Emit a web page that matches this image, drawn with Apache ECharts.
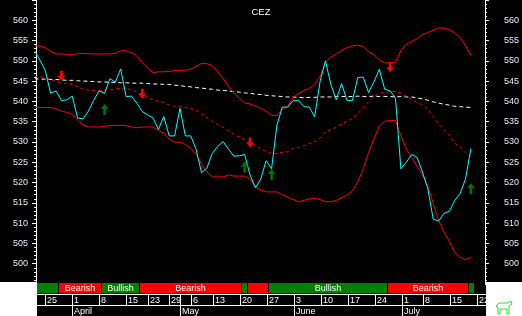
<!DOCTYPE html>
<html><head><meta charset="utf-8">
<script src="https://cdn.jsdelivr.net/npm/echarts@6/dist/echarts.min.js"></script>
<style>html,body{margin:0;padding:0;background:#000;overflow:hidden}#c{width:522px;height:316px}</style>
</head><body><div id="c"></div>
<script>
// ---- data ----
const days = [
 '2019-03-21','2019-03-22','2019-03-25','2019-03-26','2019-03-27','2019-03-28','2019-03-29',
 '2019-04-01','2019-04-02','2019-04-03','2019-04-04','2019-04-05','2019-04-08','2019-04-09','2019-04-10','2019-04-11','2019-04-12',
 '2019-04-15','2019-04-16','2019-04-17','2019-04-18','2019-04-23','2019-04-24','2019-04-25','2019-04-26','2019-04-29','2019-04-30',
 '2019-05-02','2019-05-03','2019-05-06','2019-05-07','2019-05-09','2019-05-10','2019-05-13','2019-05-14','2019-05-15','2019-05-16','2019-05-17',
 '2019-05-20','2019-05-21','2019-05-22','2019-05-23','2019-05-24','2019-05-27','2019-05-28','2019-05-29','2019-05-30','2019-05-31',
 '2019-06-03','2019-06-04','2019-06-05','2019-06-06','2019-06-07','2019-06-10','2019-06-11','2019-06-12','2019-06-13','2019-06-14',
 '2019-06-17','2019-06-18','2019-06-19','2019-06-20','2019-06-21','2019-06-24','2019-06-25','2019-06-26','2019-06-27','2019-06-28',
 '2019-07-01','2019-07-02','2019-07-03','2019-07-04','2019-07-08','2019-07-09','2019-07-10','2019-07-11','2019-07-12',
 '2019-07-15','2019-07-16','2019-07-17','2019-07-18','2019-07-19','2019-07-22','2019-07-23'
];
const closePrice = [
 552.5,550.2,547.6,542.0,542.6,540.2,540.4,541.3,535.9,535.7,
 537.6,540.3,542.6,542.0,545.6,544.8,548.0,541.2,541.3,539.6,
 537.5,536.7,535.9,533.1,536.3,531.5,531.5,538.3,531.5,531.5,
 528.2,522.4,523.6,527.2,528.9,530.1,528.2,526.5,526.6,526.9,
 521.9,518.7,520.9,525.4,523.4,534.2,538.6,538.6,540.2,540.2,
 538.7,538.6,536.2,544.9,550.0,544.2,540.4,544.4,540.2,540.2,
 545.9,546.0,542.2,544.8,547.9,543.0,542.6,540.8,523.4,525.0,
 526.9,526.2,522.6,518.5,511.0,510.5,512.4,512.9,515.6,517.3,
 520.9,528.4
];
const upperBand = [
 553.7,553.7,553.2,552.4,551.7,551.7,551.6,551.5,551.8,551.8,
 551.8,551.7,551.7,551.7,551.7,551.9,552.5,552.5,552.0,551.2,
 549.6,548.2,547.1,547.3,547.3,547.4,547.6,547.7,547.7,548.0,
 548.6,549.4,549.3,548.8,547.3,545.7,543.7,542.1,540.8,539.6,
 539.4,538.9,538.3,537.6,536.5,536.6,538.0,538.8,541.0,541.9,
 542.7,543.2,544.2,546.1,549.7,550.9,551.7,552.6,553.2,553.7,
 553.9,553.5,552.3,551.5,550.2,549.5,549.5,549.7,552.5,554.1,
 554.8,555.4,556.5,557.0,557.5,558.1,558.1,557.7,556.8,555.8,
 553.7,551.4
];
const lowerBand = [
 538.5,538.5,538.5,538.5,538.1,537.6,537.3,536.8,535.4,534.2,
 533.7,533.7,533.7,533.9,534.0,534.1,534.1,534.0,533.7,533.5,
 533.7,533.7,533.7,532.8,532.2,530.7,530.0,529.9,529.4,528.4,
 527.0,524.5,522.6,521.4,521.4,521.4,521.9,521.6,521.6,521.6,
 520.9,519.0,518.2,517.7,517.7,517.7,517.0,516.3,515.8,515.3,
 515.6,516.0,516.1,515.8,515.3,515.3,515.6,516.3,516.9,517.9,
 520.2,523.3,527.4,530.8,533.9,535.1,535.3,535.3,531.6,528.3,
 526.2,524.0,521.9,519.2,514.8,510.7,507.8,505.5,502.7,501.6,
 501.0,501.5
];
const middleBand = [
 546.1,546.1,545.9,545.5,544.9,544.6,544.4,544.2,543.6,543.0,
 542.8,542.7,542.7,542.8,542.9,543.0,543.3,543.2,542.9,542.3,
 541.7,540.9,540.4,540.0,539.7,539.1,538.8,538.8,538.5,538.2,
 537.8,537.0,536.0,535.1,534.3,533.6,532.8,531.9,531.2,530.6,
 530.1,529.0,528.3,527.7,527.1,527.2,527.5,527.6,528.4,528.6,
 529.1,529.6,530.1,531.0,532.5,533.1,533.6,534.5,535.1,535.8,
 537.0,538.4,539.9,541.2,542.0,542.3,542.4,542.5,542.0,541.2,
 540.5,539.7,539.2,538.1,536.2,534.4,533.0,531.6,529.7,528.7,
 527.3,526.5
];
const longMA = [
 545.6,545.5,545.5,545.4,545.4,545.3,545.2,545.2,545.1,545.0,
 545.0,544.9,544.8,544.8,544.7,544.7,544.6,544.6,544.5,544.5,
 544.5,544.4,544.3,544.3,544.2,544.2,544.0,543.9,543.7,543.6,
 543.4,543.3,543.1,543.0,542.8,542.7,542.6,542.4,542.3,542.1,
 542.0,541.8,541.7,541.5,541.4,541.3,541.2,541.1,541.1,541.0,
 540.9,541.0,541.0,541.1,541.1,541.1,541.2,541.2,541.2,541.2,
 541.3,541.2,541.2,541.3,541.2,541.2,541.2,541.1,541.2,541.1,
 541.1,540.9,540.6,540.3,539.9,539.6,539.3,539.1,538.8,538.7,
 538.6,538.5
];
const sellSignalDays = ['2019-03-28','2019-04-18','2019-05-22','2019-06-27'];
const sellSignalValues = [546.3, 541.9, 529.9, 548.4];
const buySignalDays = ['2019-04-09','2019-05-21','2019-05-28','2019-07-19'];
const buySignalValues = [538.0, 523.8, 522.0, 518.5];
const trendStart = ['2019-03-21','2019-03-28','2019-04-09','2019-04-18','2019-05-21','2019-05-22','2019-05-28','2019-06-27','2019-07-19'];
const trendEnd   = ['2019-03-27','2019-04-08','2019-04-17','2019-05-20','2019-05-21','2019-05-27','2019-06-26','2019-07-18','2019-07-19'];
const trendLabel = ['Bullish','Bearish','Bullish','Bearish','Bullish','Bearish','Bullish','Bearish','Bullish'];
const dateTickDays = ['2019-03-25','2019-04-01','2019-04-08','2019-04-15','2019-04-23','2019-04-29','2019-05-02','2019-05-06','2019-05-13',
 '2019-05-20','2019-05-27','2019-06-03','2019-06-10','2019-06-17','2019-06-24','2019-07-01','2019-07-08','2019-07-15','2019-07-22'];
const dateTickLabels = ['25','1','8','15','23','29','','6','13','20','27','3','10','17','24','1','8','15','22'];
const monthTickDays = ['2019-04-01','2019-05-02','2019-06-03','2019-07-01'];
const monthLabels = ['April','May','June','July'];
const yTickValues = [500,505,510,515,520,525,530,535,540,545,550,555,560];

// ---- chart ----
const FONT = "'Liberation Sans', Arial, sans-serif";
const idx = d => days.indexOf(d);
const X_MIN = 0.28, X_MAX = 83.61;
const chart = echarts.init(document.getElementById('c'), null, {renderer:'canvas', width:522, height:316});

function yAxisDef(pos, margin){
  return {type:'value', gridIndex:0, position:pos, min:495, max:565, interval:5,
    axisLine:{show:true, lineStyle:{color:'#ffffff', width:1}},
    axisTick:{show:true, length:4, lineStyle:{color:'#ffffff'}},
    minorTick:{show:true, splitNumber:5, length:2, lineStyle:{color:'#ffffff'}},
    splitLine:{show:false},
    axisLabel:{color:'#e4ecfb', fontSize:9, fontFamily:FONT, margin:margin,
      formatter: v => yTickValues.indexOf(v) >= 0 ? String(v) : ''}};
}
function lineSeries(name, values, color, type, z){
  return {name, type:'line', xAxisIndex:0, yAxisIndex:0, data: values.map((v,i)=>[i,v]),
    showSymbol:false, symbol:'none', silent:true, z:z,
    lineStyle:{color, width:1, type: type || 'solid'}};
}
const downArrow = 'path://M2.7,0 L5.3,0 L5.3,5 L8,5 L4,10 L0,5 L2.7,5 Z';
const upArrow = 'path://M4,0 L8,5 L5.3,5 L5.3,11 L2.7,11 L2.7,5 L0,5 Z';

const option = {
  backgroundColor:'#000000',
  animation:false,
  title:{text:'CEZ', left:'center', top:2, textStyle:{color:'#ffffff', fontSize:9.5, fontWeight:'normal', fontFamily:FONT}},
  grid:[{left:36, right:36, top:-5, height:289}, {left:36, right:36, top:283, height:33}],
  xAxis:[{type:'value', gridIndex:0, min:X_MIN, max:X_MAX, show:false},
         {type:'value', gridIndex:1, min:X_MIN, max:X_MAX, show:false}],
  yAxis:[yAxisDef('left', 8), yAxisDef('right', 19),
         {type:'value', gridIndex:1, min:0, max:33, inverse:true, show:false}],
  series:[
    lineSeries('MA long', longMA, '#ffffff', [4,3], 2),
    lineSeries('Middle', middleBand, '#ff0000', [3,3], 3),
    lineSeries('Upper', upperBand, '#ff0000', 'solid', 3),
    lineSeries('Lower', lowerBand, '#ff0000', 'solid', 3),
    lineSeries('CEZ', closePrice, '#00ffff', 'solid', 4),
    {type:'scatter', xAxisIndex:0, yAxisIndex:0, silent:true, z:6,
     data: sellSignalDays.map((d,k)=>[idx(d), sellSignalValues[k]]),
     symbol:downArrow, symbolSize:[8,10], itemStyle:{color:'#ff0000', opacity:1}},
    {type:'scatter', xAxisIndex:0, yAxisIndex:0, silent:true, z:6,
     data: buySignalDays.map((d,k)=>[idx(d), buySignalValues[k]]),
     symbol:upArrow, symbolSize:[8,11], itemStyle:{color:'#007000', opacity:1}},
    // trend strip
    {type:'custom', xAxisIndex:1, yAxisIndex:2, silent:true, z:5,
     data: trendStart.map((d,k)=>[idx(d), idx(trendEnd[k]), k]),
     renderItem(params, api){
       const cs = params.coordSys;
       const label = trendLabel[params.dataIndex];
       const a = api.coord([api.value(0)-0.5, 0]);
       const b = api.coord([api.value(1)+0.5, 10.3]);
       const x0 = Math.max(Math.round(a[0]), cs.x + 1);
       const x1 = Math.min(Math.round(b[0]) - 1, cs.x + cs.width);
       const color = label === 'Bullish' ? '#008000' : '#ff0000';
       const ch = [{type:'rect', shape:{x:x0, y:a[1], width:x1-x0, height:b[1]-a[1]}, style:{fill:color}}];
       if (x1 - x0 > 36) ch.push({type:'text', style:{text:label, x:(x0+x1)/2, y:(a[1]+b[1])/2 + 0.5,
         align:'center', verticalAlign:'middle', fill:'#ffffff', fontSize:9, fontFamily:FONT}});
       return {type:'group', children:ch};
     }},
    // frame lines of date rows
    {type:'custom', xAxisIndex:1, yAxisIndex:2, silent:true, z:5, data:[[0,0]],
     renderItem(params, api){
       const cs = params.coordSys;
       const yA = Math.round(api.coord([0, 11])[1]) + 0.5;
       const yB = Math.round(api.coord([0, 22.3])[1]) + 0.5;
       return {type:'group', children:[
         {type:'line', shape:{x1:cs.x, y1:yA, x2:cs.x+cs.width, y2:yA}, style:{stroke:'#ffffff', lineWidth:1}},
         {type:'line', shape:{x1:cs.x, y1:yB, x2:cs.x+cs.width, y2:yB}, style:{stroke:'#ffffff', lineWidth:1}}
       ]};
     }},
    // day ticks
    {type:'custom', xAxisIndex:1, yAxisIndex:2, silent:true, z:5,
     data: dateTickDays.map((d,k)=>[idx(d), k]),
     renderItem(params, api){
       const p = api.coord([api.value(0), 11]);
       const q = api.coord([api.value(0), 22.3]);
       const x = Math.round(p[0]) + 0.5;
       const y1 = Math.round(p[1]) + 0.5, y2 = Math.round(q[1]) + 0.5;
       return {type:'group', children:[
         {type:'line', shape:{x1:x, y1:y1, x2:x, y2:y2}, style:{stroke:'#ffffff', lineWidth:1}},
         {type:'text', style:{text:dateTickLabels[params.dataIndex], x:x+1.5, y:(y1+y2)/2 + 0.5, align:'left',
           verticalAlign:'middle', fill:'#ffffff', fontSize:9, fontFamily:FONT}}
       ]};
     }},
    // month ticks
    {type:'custom', xAxisIndex:1, yAxisIndex:2, silent:true, z:5,
     data: monthTickDays.map((d,k)=>[idx(d), k]),
     renderItem(params, api){
       const p = api.coord([api.value(0), 22.3]);
       const q = api.coord([api.value(0), 33]);
       const x = Math.round(p[0]) + 0.5;
       const y1 = Math.round(p[1]) + 0.5;
       return {type:'group', children:[
         {type:'line', shape:{x1:x, y1:y1, x2:x, y2:q[1]}, style:{stroke:'#ffffff', lineWidth:1}},
         {type:'text', style:{text:monthLabels[params.dataIndex], x:x+1.5, y:(y1+q[1])/2 + 1, align:'left',
           verticalAlign:'middle', fill:'#ffffff', fontSize:9, fontFamily:FONT}}
       ]};
     }}
  ],
  graphic:[
    {type:'rect', z:100, shape:{x:0, y:282, width:37, height:34}, style:{fill:'#ffffff'}},
    {type:'rect', z:100, shape:{x:486, y:282, width:36, height:34}, style:{fill:'#ffffff'}},
    {type:'polyline', z:101, shape:{points:[[496,306],[499,303],[508,303],[511,301],[512,304],[509,306],[509,314],[507,314],[507,309],[500,309],[500,314],[498,314],[498,308],[496,306]]},
     style:{stroke:'#33dd33', fill:null, lineWidth:1}}
  ]
};
chart.setOption(option);
</script>
</body></html>
